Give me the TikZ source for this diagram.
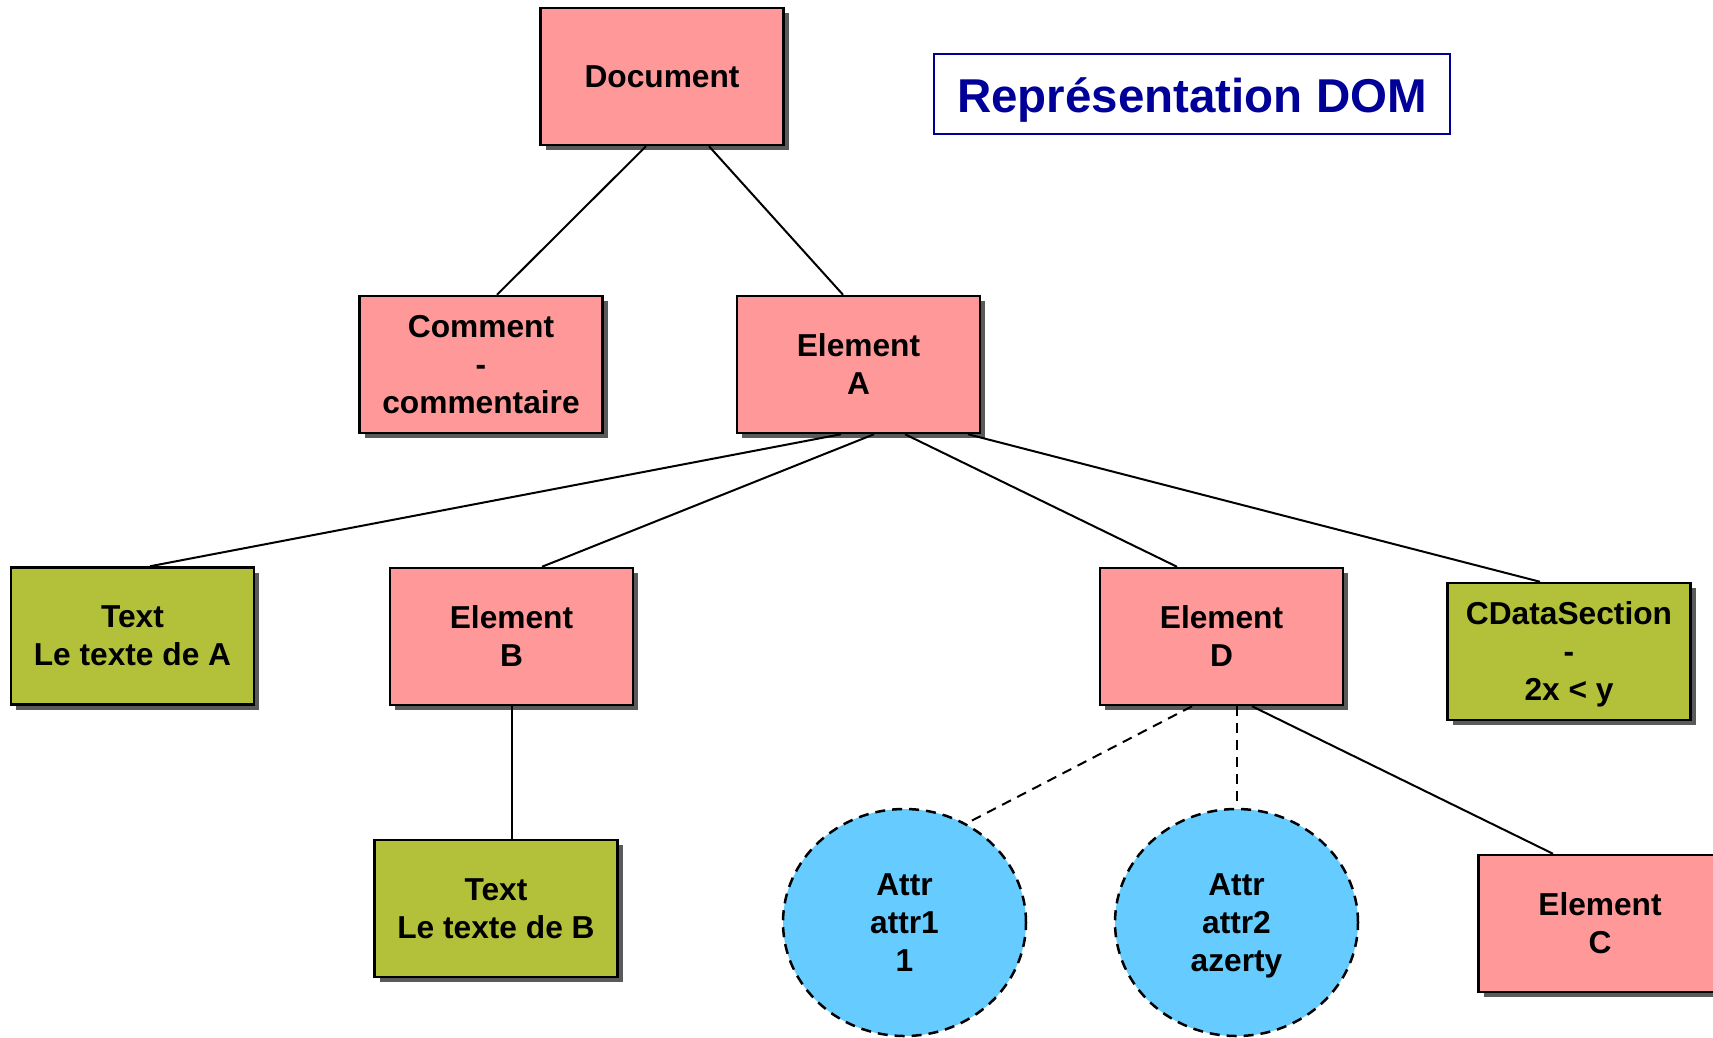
\documentclass[tikz,border=0pt]{standalone}
\usepackage{fontspec}
\setmainfont{Liberation Sans}
\usetikzlibrary{shapes.geometric,shadows}
\definecolor{pinkbox}{RGB}{255,153,153}
\definecolor{greenbox}{RGB}{178,192,58}
\definecolor{bluecirc}{RGB}{102,204,255}
\definecolor{titleblue}{RGB}{0,0,153}
\definecolor{shadowgray}{RGB}{90,90,90}
\tikzset{
  box/.style={draw=black, line width=2.5pt, rectangle, minimum width=243pt, minimum height=137pt,
    inner sep=0pt, align=center, font=\fontsize{31.7}{38}\selectfont\bfseries,
    drop shadow={shadow xshift=5pt, shadow yshift=-5pt, fill=shadowgray, opacity=1}},
  pinkbox/.style={box, fill=pinkbox},
  greenbox/.style={box, fill=greenbox},
  attrnode/.style={ellipse, draw=black, line width=2.5pt, dash pattern=on 10pt off 7pt, fill=bluecirc,
    minimum width=243pt, minimum height=227pt, inner sep=0pt, align=center,
    font=\fontsize{31.7}{38}\selectfont\bfseries},
  conn/.style={line width=2pt, black},
  dconn/.style={line width=2pt, black, dash pattern=on 10pt off 7pt}
}
\begin{document}
\begin{tikzpicture}[x=1pt,y=1pt]
\useasboundingbox (0,0) rectangle (1713,-1037);
\node[pinkbox] (doc) at (662,-76.5) {Document};
\node[draw=titleblue, line width=2pt, minimum width=516pt, minimum height=80pt, inner sep=0pt,
  text=titleblue, font=\fontsize{47.5}{52}\selectfont\bfseries] (title) at (1192,-94) {\smash{\raisebox{-18pt}{Représentation DOM}}};
\node[pinkbox] (comment) at (481,-364.5) {Comment\\-\\commentaire};
\node[pinkbox] (ea) at (858.5,-364.5) {Element\\A};
\node[greenbox] (texta) at (132.5,-636) {Text\\Le texte de A};
\node[pinkbox] (eb) at (511.5,-636.5) {Element\\B};
\node[pinkbox] (ed) at (1221.5,-636.5) {Element\\D};
\node[greenbox] (cdata) at (1569,-651.5) {CDataSection\\-\\\smash{2x < y}};
\node[greenbox] (textb) at (496,-908.5) {Text\\Le texte de B};
\node[pinkbox] (ec) at (1600,-923.5) {Element\\C};
\node[attrnode] (attr1) at (904.5,-922.5) {Attr\\attr1\\1};
\node[attrnode] (attr2) at (1236.5,-922.5) {Attr\\attr2\\\smash{azerty}};

\draw[conn] ([xshift=-16pt]doc.south) -- ([xshift=16pt]comment.north);
\draw[conn] ([xshift=47pt]doc.south) -- ([xshift=-15.5pt]ea.north);
\draw[conn] ([xshift=-17.5pt]ea.south) -- ([xshift=17.5pt]texta.north);
\draw[conn] ([xshift=15.5pt]ea.south) -- ([xshift=30.5pt]eb.north);
\draw[conn] ([xshift=46.5pt]ea.south) -- ([xshift=-44.5pt]ed.north);
\draw[conn] ([xshift=109.5pt]ea.south) -- ([xshift=-29pt]cdata.north);
\draw[conn] (eb.south) -- (eb.south |- textb.north);
\draw[dconn] ([xshift=-29.5pt]ed.south) -- (attr1.58);
\draw[dconn] (attr2.north |- ed.south) -- (attr2.north);
\draw[conn] ([xshift=30.5pt]ed.south) -- ([xshift=-47pt]ec.north);
\end{tikzpicture}
\end{document}
